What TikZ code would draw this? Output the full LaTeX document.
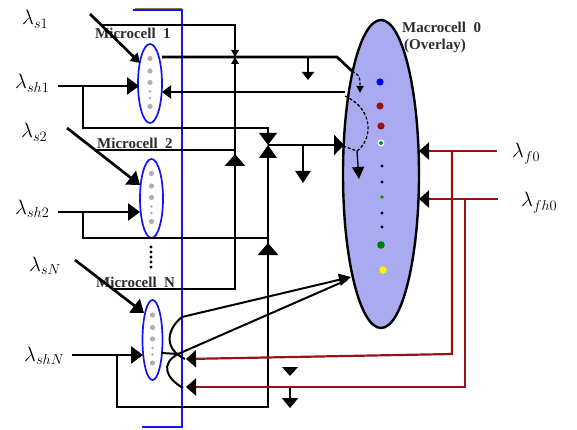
\documentclass[tikz,border=0pt]{standalone}
\usepackage{fontspec}
\newfontfamily\tnr{Liberation Serif}
\usetikzlibrary{arrows.meta,shapes.geometric}
\definecolor{darkred}{RGB}{150,20,20}
\definecolor{lav}{RGB}{170,170,240}
\definecolor{cellblue}{RGB}{20,20,240}
\definecolor{dotgray}{RGB}{175,175,175}
\definecolor{oliveline}{RGB}{140,120,70}
\definecolor{txt}{RGB}{45,45,45}
\begin{document}
\begin{tikzpicture}[x=1pt,y=-1pt,
  wire/.style={line width=2.7pt,black},
  midwire/.style={line width=2pt,black},
  thinwire/.style={line width=1.3pt,black},
  redwire/.style={line width=2.2pt,darkred},
  bigtip/.style={-{Triangle[length=12pt,width=17pt]}},
  blacktip/.style={-{Triangle[length=10pt,width=17pt,color=black]}},
  microcell/.style={ellipse,draw=cellblue,line width=1.7pt,fill=white,inner sep=0pt,outer sep=0pt},
  macrocell/.style={ellipse,draw=black,line width=2.4pt,fill=lav,inner sep=0pt,outer sep=0pt},
  lbl/.style={anchor=base west,inner sep=0pt,font=\huge},
  celltext/.style={anchor=base west,inner sep=0pt,text=txt,font=\tnr\bfseries\fontsize{15}{15}\selectfont}]
\useasboundingbox (0,0) rectangle (577,430);
\fill[white] (0,0) rectangle (577,430);

% blue bar
\draw[oliveline,line width=1pt] (135,8.2) -- (182,8.2);
\draw[cellblue,line width=2pt] (133,10) -- (182,10) -- (182,427) -- (142,427);

% microcells
\node[microcell,minimum width=24pt,minimum height=79pt] (e1) at (150,83.5) {};
\node[microcell,minimum width=23pt,minimum height=79pt] (e2) at (151.5,198.5) {};
\node[microcell,minimum width=20pt,minimum height=80pt] (eN) at (152.5,340) {};
\foreach \cx/\cy in {150/83.5,151.5/198.5,152.5/340}{
  \foreach \d/\r in {-25/2.6,-12.5/2.6,-1/2.6,8/1.3,14.5/1.3,23/2.6}
    \fill[dotgray] (\cx,\cy+\d) circle (\r pt);
}
\foreach \y in {247,252,257,262,267} \fill (151,\y) circle (1.6pt);

% macrocell
\node[macrocell,minimum width=76pt,minimum height=308pt] (mc) at (381,174) {};
\fill[blue] (380,82) circle (3.6pt);
\fill[darkred] (380,106) circle (3.6pt);
\fill[darkred] (381,126) circle (3.6pt);
\fill[white] (381,143) circle (3.4pt);
\fill[green!60!black] (381,143) circle (2pt);
\foreach \y in {166,182,213,227} \fill (382,\y) circle (1.7pt);
\fill[green!60!black] (382,197) circle (1.8pt);
\fill[green!50!black] (381,245) circle (3.8pt);
\fill[yellow] (383,270) circle (3.8pt);

% texts
\node[celltext] (t1) at (95,39) {Microcell\ \ 1};
\node[celltext] (t2) at (97,149) {Microcell\ \ 2};
\node[celltext] (tN) at (96,287) {Microcell\ \ N};
\node[celltext] (tm) at (402,33) {Macrocell\ \ 0};
\node[celltext] (to) at (404,50) {(Overlay)};

\node[lbl] (ls1) at (22,25) {$\lambda_{s1}$};
\node[lbl] (lsh1) at (15,89) {$\lambda_{sh1}$};
\node[lbl] (ls2) at (21,138) {$\lambda_{s2}$};
\node[lbl] (lsh2) at (15,214) {$\lambda_{sh2}$};
\node[lbl] (lsN) at (29,271) {$\lambda_{sN}$};
\node[lbl] (lshN) at (24,361) {$\lambda_{shN}$};
\node[lbl] (lf0) at (512,158) {$\lambda_{f0}$};
\node[lbl] (lfh0) at (521,207) {$\lambda_{fh0}$};

% coordinates
\coordinate (s1a) at (90,14);
\coordinate (s1t) at (140,63);
\coordinate (s2a) at (67,128);
\coordinate (s2t) at (140,185);
\coordinate (sNa) at (75,260);
\coordinate (sNt) at (144,313);
\coordinate (bt1) at (235,57);
\coordinate (bt2) at (268,145);

% arrival arrows into microcells
\draw[wire,-{Triangle[length=9pt,width=11pt]}] (s1a) -- (s1t);
\draw[wire,bigtip] (s2a) -- (s2t);
\draw[wire,bigtip] (sNa) -- (sNt);
\draw[wire,bigtip] (58,86) -- (139,86);
\draw[wire,bigtip] (58,212) -- (140,212);
\draw[wire,bigtip] (72,355) -- (143,355);

% new-call branches collected on x=235
\draw[wire] (101,25) -- (235,25) -- (235,289) -- (113,289);
\draw[wire] (95,150) -- (235,150);
\draw[wire,-{Triangle[length=12pt,width=20pt]}] (235,175) -- (235,154);
\fill (231,50) -- (239,50) -- (bt1) -- cycle;
\fill (231,64) -- (239,64) -- (bt1) -- cycle;

% handoff branches collected on x=268
\draw[wire] (83,86) -- (83,128) -- (268,128) -- (268,133);
\draw[wire] (83,212) -- (83,238) -- (268,238);
\draw[wire] (268,158) -- (268,407) -- (117,407) -- (117,355);
\draw[wire,-{Triangle[length=12pt,width=20pt]}] (268,262) -- (268,243);
\fill (259,133) -- (277,133) -- (bt2) -- cycle;
\fill (259,158) -- (277,158) -- (bt2) -- cycle;
\draw[wire,-{Triangle[length=10pt,width=20pt]}] (bt2) -- (344,145);
\draw[wire,-{Triangle[length=12pt,width=15pt]}] (303,145) -- (303,183);

% microcell 1 output to macrocell and return
\draw[wire] (162,57) -- (337,57) -- (352,71);
\draw[wire,-{Triangle[length=8pt,width=12pt]}] (308,57) -- (308,80);
\draw[thinwire,densely dashed,-{Triangle[length=7pt,width=7pt]}] (352,71) .. controls (360,76) .. (360,93);
\draw[wire,-{Triangle[length=9pt,width=13pt]}] (345,92) -- (162,92);
\draw[thinwire,densely dashed] (345,96) .. controls (375,110) and (372,140) .. (357,151);
\draw[thinwire,densely dashed] (343,146) -- (357,151);
\draw[thinwire,-{Triangle[length=12pt,width=12pt]}] (357,151) -- (359,179);

% microcell N to macrocell
\draw[midwire,-{Triangle[length=12pt,width=12pt]}] (182,317) -- (351,277);
\draw[midwire] (178,354) -- (347,280);
\draw[midwire] (182,317) .. controls (168,328) and (162,348) .. (185,359);
\draw[midwire] (162,353) -- (178,354);
\draw[midwire] (178,354) .. controls (160,364) and (166,378) .. (183,388);

% red lines from the right
\draw[redwire,blacktip] (497,151) -- (419,151);
\draw[redwire,blacktip] (452,151) -- (452,354) -- (186,359);
\draw[redwire,blacktip] (498,199) -- (419,199);
\draw[redwire,blacktip] (465,199) -- (465,387) -- (186,387);

% bottom down arrows
\fill (282,367) -- (298,367) -- (290,376) -- cycle;
\draw[wire,-{Triangle[length=10pt,width=16pt]}] (290,388) -- (290,408);
\end{tikzpicture}
\end{document}
